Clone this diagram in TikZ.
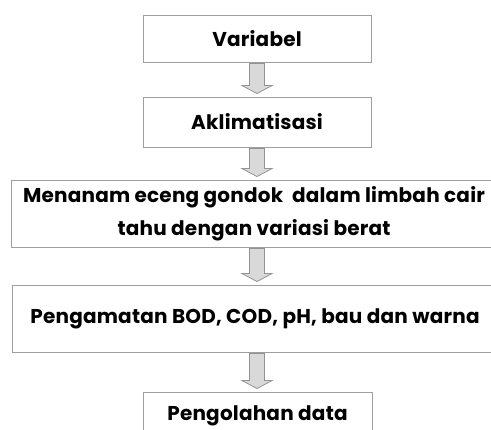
\documentclass[tikz,border=0pt]{standalone}
\usepackage{fontspec}
\setmainfont{Poppins}[LetterSpace=1]
\usetikzlibrary{calc}

\tikzset{
  kotak/.style={draw=gray!75, line width=0.9pt, inner sep=0pt, align=center,
    font=\bfseries\fontsize{20}{33}\selectfont},
  panah/.style={draw=gray!85, fill=gray!30, line width=0.8pt,
    to path={let \p1=(\tikztostart), \p2=(\tikztotarget) in
      (\x1-7.5pt,\y1-1pt) -- (\x1+7.5pt,\y1-1pt) -- (\x1+7.5pt,\y2+11pt)
      -- (\x1+15pt,\y2+11pt) -- (\x1,\y2+3pt) -- (\x1-15pt,\y2+11pt)
      -- (\x1-7.5pt,\y2+11pt) -- cycle}}
}

\begin{document}
\begin{tikzpicture}[x=1pt, y=1pt]
  % ukuran gambar
  \useasboundingbox (0,0) rectangle (491,-430);
  \clip (0,0) rectangle (491,-430);

  % kotak tahapan
  \node[kotak, minimum width=228pt, minimum height=47pt] (var) at (257,-38.5) {Variabel};
  \node[kotak, minimum width=228pt, minimum height=50pt] (akl) at (257,-122) {Aklimatisasi};
  \node[kotak, minimum width=486pt, minimum height=67pt] (tanam) at (254,-213.5)
    {Menanam eceng gondok \ dalam limbah cair\\tahu dengan variasi berat};
  \node[kotak, minimum width=486pt, minimum height=67pt] (amat) at (255,-318.5)
    {Pengamatan BOD, COD, pH, bau dan warna};
  \node[kotak, minimum width=229pt, minimum height=48pt] (olah) at (257.5,-416) {Pengolahan data};

  % panah antar tahapan
  \path[panah] (var.south) to (akl.north);
  \path[panah] (akl.south) to (tanam.north -| akl.south);
  \path[panah] (tanam.south -| akl.south) to (amat.north -| akl.south);
  \path[panah] (amat.south -| akl.south) to (olah.north);
\end{tikzpicture}
\end{document}
